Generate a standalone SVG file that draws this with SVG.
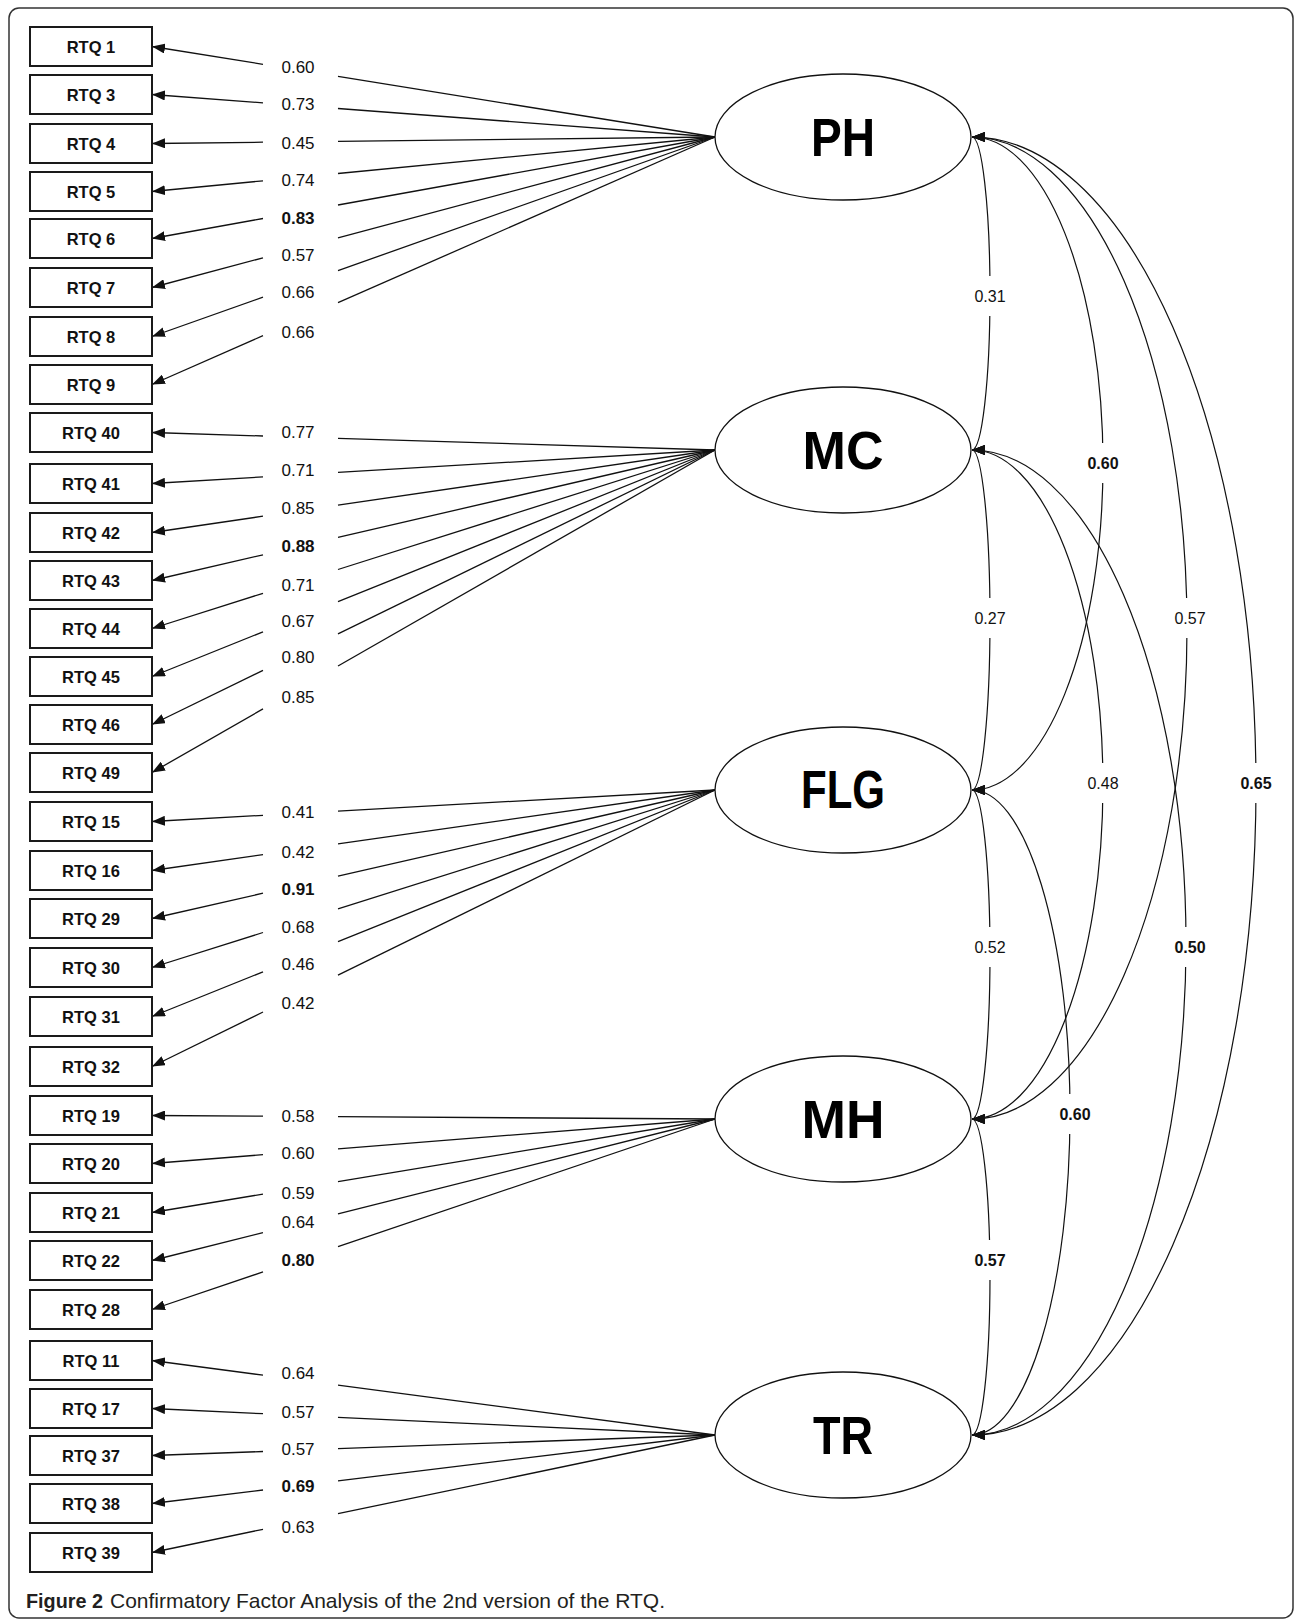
<svg xmlns="http://www.w3.org/2000/svg" width="1295" height="1621" viewBox="0 0 1295 1621">
<style>
.frame{fill:#fff;stroke:#333;stroke-width:1.5}
.box{fill:#fff;stroke:#1a1a1a;stroke-width:2}
.bt{font-family:"Liberation Sans",Arial,sans-serif;font-weight:bold;font-size:16.5px;text-anchor:middle;fill:#111}
.ln{stroke:#111;stroke-width:1.3;fill:none}
.ar{stroke:#111;stroke-width:1.3;fill:none;marker-end:url(#ah)}
.lab{font-family:"Liberation Sans",Arial,sans-serif;font-size:17px;text-anchor:middle;fill:#111}
.b{font-weight:bold}
.cl{font-family:"Liberation Sans",Arial,sans-serif;font-size:16px;text-anchor:middle;fill:#111}
.ell{fill:#fff;stroke:#111;stroke-width:1.3}
.ft{font-family:"Liberation Sans",Arial,sans-serif;font-weight:bold;font-size:53px;text-anchor:middle;fill:#000}
.arc{fill:none;stroke:#111;stroke-width:1.2;marker-start:url(#ah);marker-end:url(#ah)}
.gap{fill:#fff;stroke:none}
.cap{font-family:"Liberation Sans",Arial,sans-serif;font-size:21px;fill:#231f20}
</style>
<defs>
<marker id="ah" markerUnits="userSpaceOnUse" markerWidth="14" markerHeight="10" refX="13" refY="5" orient="auto-start-reverse"><path d="M0,0 L13,5 L0,10 z" fill="#111"/></marker>
</defs>
<rect class="frame" x="9" y="8" width="1284" height="1610" rx="10"/>

<g id="connectors">
<!-- PH loadings -->
<line class="ln" x1="715" y1="137" x2="338" y2="76.4"/><line class="ar" x1="263" y1="64.3" x2="152" y2="46.5"/>
<line class="ln" x1="715" y1="137" x2="338" y2="108.5"/><line class="ar" x1="263" y1="102.9" x2="152" y2="94.5"/>
<line class="ln" x1="715" y1="137" x2="338" y2="141.4"/><line class="ar" x1="263" y1="142.2" x2="152" y2="143.5"/>
<line class="ln" x1="715" y1="137" x2="338" y2="173.5"/><line class="ar" x1="263" y1="180.8" x2="152" y2="191.5"/>
<line class="ln" x1="715" y1="137" x2="338" y2="205"/><line class="ar" x1="263" y1="218.5" x2="152" y2="238.5"/>
<line class="ln" x1="715" y1="137" x2="338" y2="237.8"/><line class="ar" x1="263" y1="257.8" x2="152" y2="287.5"/>
<line class="ln" x1="715" y1="137" x2="338" y2="270.6"/><line class="ar" x1="263" y1="297.2" x2="152" y2="336.5"/>
<line class="ln" x1="715" y1="137" x2="338" y2="302.7"/><line class="ar" x1="263" y1="335.7" x2="152" y2="384.5"/>
<!-- MC loadings -->
<line class="ln" x1="715" y1="450" x2="338" y2="438.3"/><line class="ar" x1="263" y1="436" x2="152" y2="432.5"/>
<line class="ln" x1="715" y1="450" x2="338" y2="472.4"/><line class="ar" x1="263" y1="476.9" x2="152" y2="483.5"/>
<line class="ln" x1="715" y1="450" x2="338" y2="505.2"/><line class="ar" x1="263" y1="516.2" x2="152" y2="532.5"/>
<line class="ln" x1="715" y1="450" x2="338" y2="537.4"/><line class="ar" x1="263" y1="554.8" x2="152" y2="580.5"/>
<line class="ln" x1="715" y1="450" x2="338" y2="569.5"/><line class="ar" x1="263" y1="593.3" x2="152" y2="628.5"/>
<line class="ln" x1="715" y1="450" x2="338" y2="601.7"/><line class="ar" x1="263" y1="631.8" x2="152" y2="676.5"/>
<line class="ln" x1="715" y1="450" x2="338" y2="633.8"/><line class="ar" x1="263" y1="670.4" x2="152" y2="724.5"/>
<line class="ln" x1="715" y1="450" x2="338" y2="666"/><line class="ar" x1="263" y1="708.9" x2="152" y2="772.5"/>
<!-- FLG loadings -->
<line class="ln" x1="715" y1="790" x2="338" y2="811.1"/><line class="ar" x1="263" y1="815.3" x2="152" y2="821.5"/>
<line class="ln" x1="715" y1="790" x2="338" y2="843.9"/><line class="ar" x1="263" y1="854.6" x2="152" y2="870.5"/>
<line class="ln" x1="715" y1="790" x2="338" y2="876.1"/><line class="ar" x1="263" y1="893.2" x2="152" y2="918.5"/>
<line class="ln" x1="715" y1="790" x2="338" y2="908.9"/><line class="ar" x1="263" y1="932.5" x2="152" y2="967.5"/>
<line class="ln" x1="715" y1="790" x2="338" y2="941.7"/><line class="ar" x1="263" y1="971.8" x2="152" y2="1016.5"/>
<line class="ln" x1="715" y1="790" x2="338" y2="975.2"/><line class="ar" x1="263" y1="1012" x2="152" y2="1066.5"/>
<!-- MH loadings -->
<line class="ln" x1="715" y1="1119" x2="338" y2="1116.7"/><line class="ar" x1="263" y1="1116.2" x2="152" y2="1115.5"/>
<line class="ln" x1="715" y1="1119" x2="338" y2="1148.8"/><line class="ar" x1="263" y1="1154.7" x2="152" y2="1163.5"/>
<line class="ln" x1="715" y1="1119" x2="338" y2="1181.6"/><line class="ar" x1="263" y1="1194.1" x2="152" y2="1212.5"/>
<line class="ln" x1="715" y1="1119" x2="338" y2="1213.8"/><line class="ar" x1="263" y1="1232.6" x2="152" y2="1260.5"/>
<line class="ln" x1="715" y1="1119" x2="338" y2="1246.6"/><line class="ar" x1="263" y1="1271.9" x2="152" y2="1309.5"/>
<!-- TR loadings -->
<line class="ln" x1="715" y1="1435" x2="338" y2="1385.1"/><line class="ar" x1="263" y1="1375.2" x2="152" y2="1360.5"/>
<line class="ln" x1="715" y1="1435" x2="338" y2="1417.3"/><line class="ar" x1="263" y1="1413.7" x2="152" y2="1408.5"/>
<line class="ln" x1="715" y1="1435" x2="338" y2="1448.7"/><line class="ar" x1="263" y1="1451.5" x2="152" y2="1455.5"/>
<line class="ln" x1="715" y1="1435" x2="338" y2="1480.9"/><line class="ar" x1="263" y1="1490" x2="152" y2="1503.5"/>
<line class="ln" x1="715" y1="1435" x2="338" y2="1513.7"/><line class="ar" x1="263" y1="1529.3" x2="152" y2="1552.5"/>

<!-- loading labels -->
<text class="lab" x="298" y="73">0.60</text>
<text class="lab" x="298" y="110">0.73</text>
<text class="lab" x="298" y="149">0.45</text>
<text class="lab" x="298" y="186">0.74</text>
<text class="lab b" x="298" y="224">0.83</text>
<text class="lab" x="298" y="261">0.57</text>
<text class="lab" x="298" y="298">0.66</text>
<text class="lab" x="298" y="338">0.66</text>
<text class="lab" x="298" y="438">0.77</text>
<text class="lab" x="298" y="476">0.71</text>
<text class="lab" x="298" y="514">0.85</text>
<text class="lab b" x="298" y="552">0.88</text>
<text class="lab" x="298" y="591">0.71</text>
<text class="lab" x="298" y="627">0.67</text>
<text class="lab" x="298" y="663">0.80</text>
<text class="lab" x="298" y="703">0.85</text>
<text class="lab" x="298" y="818">0.41</text>
<text class="lab" x="298" y="858">0.42</text>
<text class="lab b" x="298" y="895">0.91</text>
<text class="lab" x="298" y="933">0.68</text>
<text class="lab" x="298" y="970">0.46</text>
<text class="lab" x="298" y="1009">0.42</text>
<text class="lab" x="298" y="1122">0.58</text>
<text class="lab" x="298" y="1159">0.60</text>
<text class="lab" x="298" y="1199">0.59</text>
<text class="lab" x="298" y="1228">0.64</text>
<text class="lab b" x="298" y="1266">0.80</text>
<text class="lab" x="298" y="1379">0.64</text>
<text class="lab" x="298" y="1418">0.57</text>
<text class="lab" x="298" y="1455">0.57</text>
<text class="lab b" x="298" y="1492">0.69</text>
<text class="lab" x="298" y="1533">0.63</text>

<!-- correlations -->
<path class="arc" d="M972,137 A18,156.5 0 0 1 972,450"/>
<path class="arc" d="M972,450 A18,170 0 0 1 972,790"/>
<path class="arc" d="M972,790 A18,164.5 0 0 1 972,1119"/>
<path class="arc" d="M972,1119 A18,158 0 0 1 972,1435"/>
<path class="arc" d="M972,137 A131,326.5 0 0 1 972,790"/>
<path class="arc" d="M972,450 A131,334.5 0 0 1 972,1119"/>
<path class="arc" d="M972,790 A98,322.5 0 0 1 972,1435"/>
<path class="arc" d="M972,137 A215,491 0 0 1 972,1119"/>
<path class="arc" d="M972,450 A214,492.5 0 0 1 972,1435"/>
<path class="arc" d="M972,137 A284,649 0 0 1 972,1435"/>

<rect class="gap" x="972" y="276" width="36" height="40"/>
<rect class="gap" x="972" y="598" width="36" height="40"/>
<rect class="gap" x="972" y="927" width="36" height="40"/>
<rect class="gap" x="971" y="1240" width="38" height="40"/>
<rect class="gap" x="1084" y="443" width="38" height="40"/>
<rect class="gap" x="1085" y="763" width="36" height="40"/>
<rect class="gap" x="1056" y="1094" width="38" height="40"/>
<rect class="gap" x="1172" y="598" width="36" height="40"/>
<rect class="gap" x="1171" y="927" width="38" height="40"/>
<rect class="gap" x="1237" y="763" width="38" height="40"/>

<text class="cl" x="990" y="301.5">0.31</text>
<text class="cl" x="990" y="623.5">0.27</text>
<text class="cl" x="990" y="952.5">0.52</text>
<text class="cl b" x="990" y="1265.5">0.57</text>
<text class="cl b" x="1103" y="468.5">0.60</text>
<text class="cl" x="1103" y="788.5">0.48</text>
<text class="cl b" x="1075" y="1119.5">0.60</text>
<text class="cl" x="1190" y="623.5">0.57</text>
<text class="cl b" x="1190" y="952.5">0.50</text>
<text class="cl b" x="1256" y="788.5">0.65</text>
</g>

<g id="node-RTQ1"><rect class="box" x="30" y="27" width="122" height="39"/><text class="bt" x="91" y="52.5">RTQ 1</text></g>
<g id="node-RTQ3"><rect class="box" x="30" y="75" width="122" height="39"/><text class="bt" x="91" y="100.5">RTQ 3</text></g>
<g id="node-RTQ4"><rect class="box" x="30" y="124" width="122" height="39"/><text class="bt" x="91" y="149.5">RTQ 4</text></g>
<g id="node-RTQ5"><rect class="box" x="30" y="172" width="122" height="39"/><text class="bt" x="91" y="197.5">RTQ 5</text></g>
<g id="node-RTQ6"><rect class="box" x="30" y="219" width="122" height="39"/><text class="bt" x="91" y="244.5">RTQ 6</text></g>
<g id="node-RTQ7"><rect class="box" x="30" y="268" width="122" height="39"/><text class="bt" x="91" y="293.5">RTQ 7</text></g>
<g id="node-RTQ8"><rect class="box" x="30" y="317" width="122" height="39"/><text class="bt" x="91" y="342.5">RTQ 8</text></g>
<g id="node-RTQ9"><rect class="box" x="30" y="365" width="122" height="39"/><text class="bt" x="91" y="390.5">RTQ 9</text></g>
<g id="node-RTQ40"><rect class="box" x="30" y="413" width="122" height="39"/><text class="bt" x="91" y="438.5">RTQ 40</text></g>
<g id="node-RTQ41"><rect class="box" x="30" y="464" width="122" height="39"/><text class="bt" x="91" y="489.5">RTQ 41</text></g>
<g id="node-RTQ42"><rect class="box" x="30" y="513" width="122" height="39"/><text class="bt" x="91" y="538.5">RTQ 42</text></g>
<g id="node-RTQ43"><rect class="box" x="30" y="561" width="122" height="39"/><text class="bt" x="91" y="586.5">RTQ 43</text></g>
<g id="node-RTQ44"><rect class="box" x="30" y="609" width="122" height="39"/><text class="bt" x="91" y="634.5">RTQ 44</text></g>
<g id="node-RTQ45"><rect class="box" x="30" y="657" width="122" height="39"/><text class="bt" x="91" y="682.5">RTQ 45</text></g>
<g id="node-RTQ46"><rect class="box" x="30" y="705" width="122" height="39"/><text class="bt" x="91" y="730.5">RTQ 46</text></g>
<g id="node-RTQ49"><rect class="box" x="30" y="753" width="122" height="39"/><text class="bt" x="91" y="778.5">RTQ 49</text></g>
<g id="node-RTQ15"><rect class="box" x="30" y="802" width="122" height="39"/><text class="bt" x="91" y="827.5">RTQ 15</text></g>
<g id="node-RTQ16"><rect class="box" x="30" y="851" width="122" height="39"/><text class="bt" x="91" y="876.5">RTQ 16</text></g>
<g id="node-RTQ29"><rect class="box" x="30" y="899" width="122" height="39"/><text class="bt" x="91" y="924.5">RTQ 29</text></g>
<g id="node-RTQ30"><rect class="box" x="30" y="948" width="122" height="39"/><text class="bt" x="91" y="973.5">RTQ 30</text></g>
<g id="node-RTQ31"><rect class="box" x="30" y="997" width="122" height="39"/><text class="bt" x="91" y="1022.5">RTQ 31</text></g>
<g id="node-RTQ32"><rect class="box" x="30" y="1047" width="122" height="39"/><text class="bt" x="91" y="1072.5">RTQ 32</text></g>
<g id="node-RTQ19"><rect class="box" x="30" y="1096" width="122" height="39"/><text class="bt" x="91" y="1121.5">RTQ 19</text></g>
<g id="node-RTQ20"><rect class="box" x="30" y="1144" width="122" height="39"/><text class="bt" x="91" y="1169.5">RTQ 20</text></g>
<g id="node-RTQ21"><rect class="box" x="30" y="1193" width="122" height="39"/><text class="bt" x="91" y="1218.5">RTQ 21</text></g>
<g id="node-RTQ22"><rect class="box" x="30" y="1241" width="122" height="39"/><text class="bt" x="91" y="1266.5">RTQ 22</text></g>
<g id="node-RTQ28"><rect class="box" x="30" y="1290" width="122" height="39"/><text class="bt" x="91" y="1315.5">RTQ 28</text></g>
<g id="node-RTQ11"><rect class="box" x="30" y="1341" width="122" height="39"/><text class="bt" x="91" y="1366.5">RTQ 11</text></g>
<g id="node-RTQ17"><rect class="box" x="30" y="1389" width="122" height="39"/><text class="bt" x="91" y="1414.5">RTQ 17</text></g>
<g id="node-RTQ37"><rect class="box" x="30" y="1436" width="122" height="39"/><text class="bt" x="91" y="1461.5">RTQ 37</text></g>
<g id="node-RTQ38"><rect class="box" x="30" y="1484" width="122" height="39"/><text class="bt" x="91" y="1509.5">RTQ 38</text></g>
<g id="node-RTQ39"><rect class="box" x="30" y="1533" width="122" height="39"/><text class="bt" x="91" y="1558.5">RTQ 39</text></g>

<g id="node-PH"><ellipse class="ell" cx="843" cy="137" rx="128" ry="63"/><text class="ft" x="843" y="156" textLength="64" lengthAdjust="spacingAndGlyphs">PH</text></g>
<g id="node-MC"><ellipse class="ell" cx="843" cy="450" rx="128" ry="63"/><text class="ft" x="843" y="469" textLength="81" lengthAdjust="spacingAndGlyphs">MC</text></g>
<g id="node-FLG"><ellipse class="ell" cx="843" cy="790" rx="128" ry="63"/><text class="ft" x="843" y="808" textLength="84" lengthAdjust="spacingAndGlyphs">FLG</text></g>
<g id="node-MH"><ellipse class="ell" cx="843" cy="1119" rx="128" ry="63"/><text class="ft" x="843" y="1138" textLength="83" lengthAdjust="spacingAndGlyphs">MH</text></g>
<g id="node-TR"><ellipse class="ell" cx="843" cy="1435" rx="128" ry="63"/><text class="ft" x="843" y="1454" textLength="60" lengthAdjust="spacingAndGlyphs">TR</text></g>

<text class="cap" x="26" y="1608" font-weight="bold" textLength="77" lengthAdjust="spacingAndGlyphs">Figure 2</text>
<text class="cap" x="110" y="1608" textLength="555" lengthAdjust="spacingAndGlyphs">Confirmatory Factor Analysis of the 2nd version of the RTQ.</text>
</svg>
